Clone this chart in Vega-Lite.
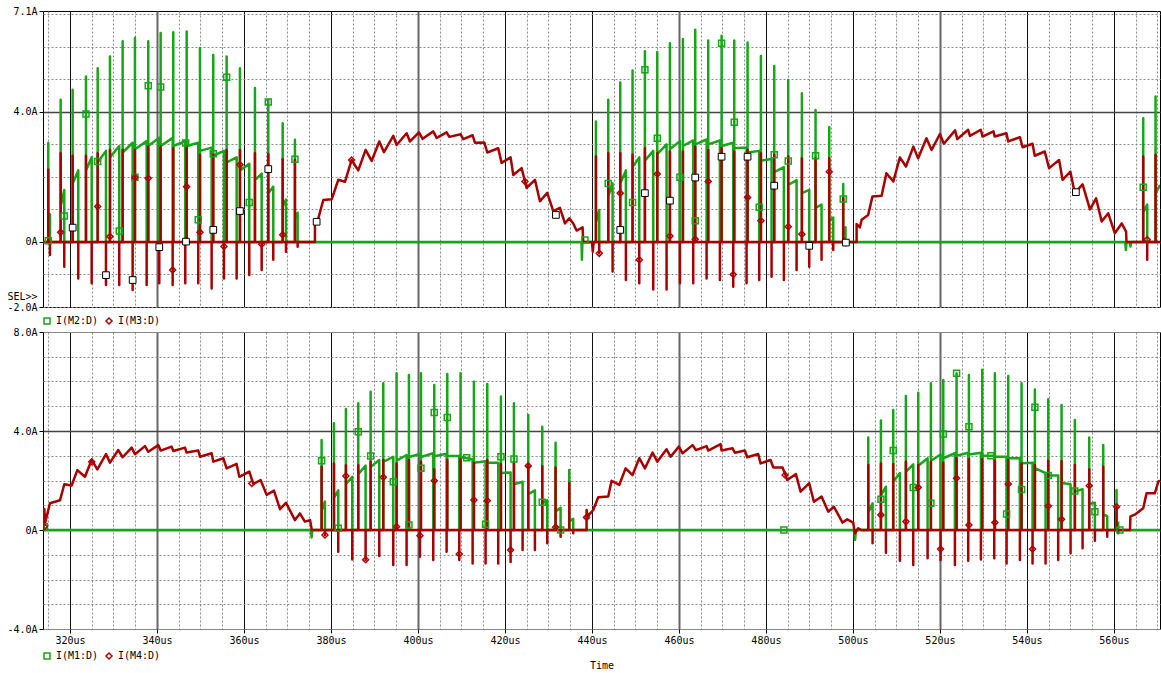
{
"$schema": "https://vega.github.io/schema/vega-lite/v6.json",
"padding": {"left": 6, "top": 5, "right": 0, "bottom": 0},
"background": "white",
"spacing": 25,
"bounds": "flush",
"config": {
 "view": {"stroke": "#000", "strokeWidth": 1},
 "font": "DejaVu Sans Mono",
 "axis": {"labelFont": "DejaVu Sans Mono", "labelFontSize": 10, "labelColor": "#000", "titleFont": "DejaVu Sans Mono", "titleFontSize": 10, "titleFontWeight": "normal", "titleColor": "#000", "tickColor": "#000", "labelOverlap": false, "labelFlush": false, "domain": false, "tickCount": 200}
},
"resolve": {"scale": {"color": "independent", "shape": "independent"}, "legend": {"color": "independent", "shape": "independent"}},
"datasets": {
"g1": [{"t":313.8,"v":0},
{"t":315.01,"v":0},{"t":315.01,"v":3.04},{"t":315.01,"v":0.55},{"t":315.4,"v":0.85},{"t":315.4,"v":0},
{"t":317.86,"v":0},{"t":317.86,"v":4.37},{"t":317.86,"v":1.1},{"t":318.69,"v":1.6},{"t":318.69,"v":0},
{"t":320.62,"v":0},{"t":320.62,"v":4.68},{"t":320.62,"v":1.8},{"t":321.91,"v":2.2},{"t":321.91,"v":0},
{"t":323.68,"v":0},{"t":323.68,"v":5.09},{"t":323.68,"v":2.2},{"t":324.99,"v":2.6},{"t":324.99,"v":0},
{"t":326.37,"v":0},{"t":326.37,"v":5.34},{"t":326.37,"v":2.45},{"t":328.28,"v":2.8},{"t":328.28,"v":0},
{"t":329.2,"v":0},{"t":329.2,"v":5.7},{"t":329.2,"v":2.6},{"t":331.33,"v":2.95},{"t":331.33,"v":0},
{"t":332.11,"v":0},{"t":332.11,"v":6.17},{"t":332.11,"v":2.75},{"t":334.41,"v":3.05},{"t":334.41,"v":0},
{"t":334.94,"v":0},{"t":334.94,"v":6.27},{"t":334.94,"v":2.85},{"t":337.63,"v":3.1},{"t":337.63,"v":0},
{"t":338.0,"v":0},{"t":338.0,"v":6.17},{"t":338.0,"v":2.95},{"t":340.53,"v":3.2},{"t":340.53,"v":0},
{"t":340.85,"v":0},{"t":340.85,"v":6.42},{"t":340.85,"v":2.95},{"t":343.61,"v":3.2},{"t":343.61,"v":0},
{"t":343.75,"v":0},{"t":343.75,"v":6.45},{"t":343.75,"v":2.95},{"t":346.51,"v":3.1},{"t":346.51,"v":0},
{"t":346.83,"v":0},{"t":346.83,"v":6.47},{"t":346.83,"v":2.95},{"t":349.49,"v":3.05},{"t":349.49,"v":0},
{"t":349.89,"v":0},{"t":349.89,"v":5.96},{"t":349.89,"v":2.8},{"t":352.57,"v":2.9},{"t":352.57,"v":0},
{"t":352.94,"v":0},{"t":352.94,"v":5.75},{"t":352.94,"v":2.65},{"t":355.4,"v":2.8},{"t":355.4,"v":0},
{"t":356.02,"v":0},{"t":356.02,"v":5.7},{"t":356.02,"v":2.45},{"t":358.32,"v":2.6},{"t":358.32,"v":0},
{"t":359.08,"v":0},{"t":359.08,"v":5.34},{"t":359.08,"v":2.2},{"t":361.22,"v":2.4},{"t":361.22,"v":0},
{"t":362.53,"v":0},{"t":362.53,"v":4.73},{"t":362.53,"v":1.9},{"t":364.07,"v":2.1},{"t":364.07,"v":0},
{"t":365.59,"v":0},{"t":365.59,"v":4.37},{"t":365.59,"v":1.5},{"t":366.74,"v":1.7},{"t":366.74,"v":0},
{"t":368.9,"v":0},{"t":368.9,"v":3.65},{"t":368.9,"v":1.1},{"t":369.66,"v":1.3},{"t":369.66,"v":0},
{"t":371.72,"v":0},{"t":371.72,"v":3.14},{"t":371.72,"v":0.7},{"t":372.34,"v":0.9},{"t":372.34,"v":0},
{"t":437.6,"v":0},{"t":437.7,"v":-0.55},{"t":437.8,"v":0},
{"t":440.92,"v":0},{"t":440.92,"v":3.7},{"t":440.92,"v":0.6},{"t":441.68,"v":0.98},{"t":441.68,"v":0},
{"t":443.75,"v":0},{"t":443.75,"v":4.37},{"t":443.75,"v":1.4},{"t":444.75,"v":1.8},{"t":444.75,"v":0},
{"t":446.51,"v":0},{"t":446.51,"v":4.9},{"t":446.51,"v":1.8},{"t":447.81,"v":2.2},{"t":447.81,"v":0},
{"t":449.34,"v":0},{"t":449.34,"v":5.27},{"t":449.34,"v":2.3},{"t":450.88,"v":2.6},{"t":450.88,"v":0},
{"t":452.18,"v":0},{"t":452.18,"v":5.86},{"t":452.18,"v":2.5},{"t":454.1,"v":2.8},{"t":454.1,"v":0},
{"t":455.02,"v":0},{"t":455.02,"v":5.84},{"t":455.02,"v":2.7},{"t":457.16,"v":3.0},{"t":457.16,"v":0},
{"t":457.93,"v":0},{"t":457.93,"v":6.11},{"t":457.93,"v":2.85},{"t":460.23,"v":3.1},{"t":460.23,"v":0},
{"t":460.92,"v":0},{"t":460.92,"v":6.24},{"t":460.92,"v":2.95},{"t":463.29,"v":3.12},{"t":463.29,"v":0},
{"t":463.75,"v":0},{"t":463.75,"v":6.52},{"t":463.75,"v":3.0},{"t":466.36,"v":3.15},{"t":466.36,"v":0},
{"t":466.74,"v":0},{"t":466.74,"v":6.19},{"t":466.74,"v":3.0},{"t":469.42,"v":3.12},{"t":469.42,"v":0},
{"t":469.81,"v":0},{"t":469.81,"v":6.34},{"t":469.81,"v":2.95},{"t":472.49,"v":3.05},{"t":472.49,"v":0},
{"t":472.72,"v":0},{"t":472.72,"v":6.19},{"t":472.72,"v":2.88},{"t":475.55,"v":2.9},{"t":475.55,"v":0},
{"t":475.78,"v":0},{"t":475.78,"v":6.13},{"t":475.78,"v":2.75},{"t":478.46,"v":2.8},{"t":478.46,"v":0},
{"t":478.85,"v":0},{"t":478.85,"v":5.72},{"t":478.85,"v":2.5},{"t":481.3,"v":2.55},{"t":481.3,"v":0},
{"t":481.91,"v":0},{"t":481.91,"v":5.41},{"t":481.91,"v":2.15},{"t":484.13,"v":2.3},{"t":484.13,"v":0},
{"t":485.13,"v":0},{"t":485.13,"v":4.98},{"t":485.13,"v":1.75},{"t":487.05,"v":1.9},{"t":487.05,"v":0},
{"t":488.27,"v":0},{"t":488.27,"v":4.57},{"t":488.27,"v":1.5},{"t":489.96,"v":1.6},{"t":489.96,"v":0},
{"t":491.41,"v":0},{"t":491.41,"v":4.06},{"t":491.41,"v":1.05},{"t":492.79,"v":1.15},{"t":492.79,"v":0},
{"t":494.56,"v":0},{"t":494.56,"v":3.53},{"t":494.56,"v":0.65},{"t":495.48,"v":0.75},{"t":495.48,"v":0},
{"t":497.77,"v":0},{"t":497.77,"v":1.78},{"t":497.77,"v":0.35},{"t":498.3,"v":0.45},{"t":498.3,"v":0},
{"t":562.6,"v":0},{"t":562.76,"v":-0.25},{"t":562.9,"v":0},{"t":563.6,"v":0},{"t":563.8,"v":-0.14},{"t":564.0,"v":0},
{"t":566.74,"v":0},{"t":566.74,"v":3.8},{"t":566.74,"v":0.9},{"t":567.66,"v":1.15},{"t":567.66,"v":0},
{"t":569.58,"v":0},{"t":569.58,"v":4.47},{"t":569.58,"v":1.5},{"t":570.6,"v":1.75}],
"r1": [{"t":313.8,"v":0},
{"t":315.01,"v":0},{"t":315.01,"v":2.22},{"t":315.01,"v":0},{"t":315.4,"v":0},{"t":315.4,"v":-0.4},{"t":315.4,"v":0},
{"t":317.86,"v":0},{"t":317.86,"v":2.73},{"t":317.86,"v":0},{"t":318.69,"v":0},{"t":318.69,"v":-0.76},{"t":318.69,"v":0},
{"t":320.62,"v":0},{"t":320.62,"v":2.65},{"t":320.62,"v":0},{"t":321.91,"v":0},{"t":321.91,"v":-1.12},{"t":321.91,"v":0},
{"t":323.68,"v":0},{"t":323.68,"v":2.65},{"t":323.68,"v":0},{"t":324.99,"v":0},{"t":324.99,"v":-1.27},{"t":324.99,"v":0},
{"t":326.37,"v":0},{"t":326.37,"v":2.73},{"t":326.37,"v":0},{"t":328.28,"v":0},{"t":328.28,"v":-1.32},{"t":328.28,"v":0},
{"t":329.2,"v":0},{"t":329.2,"v":2.83},{"t":329.2,"v":0},{"t":331.33,"v":0},{"t":331.33,"v":-1.32},{"t":331.33,"v":0},
{"t":332.11,"v":0},{"t":332.11,"v":2.83},{"t":332.11,"v":0},{"t":334.41,"v":0},{"t":334.41,"v":-1.48},{"t":334.41,"v":0},
{"t":334.94,"v":0},{"t":334.94,"v":2.83},{"t":334.94,"v":0},{"t":337.63,"v":0},{"t":337.63,"v":-1.32},{"t":337.63,"v":0},
{"t":338.0,"v":0},{"t":338.0,"v":2.93},{"t":338.0,"v":0},{"t":340.53,"v":0},{"t":340.53,"v":-1.27},{"t":340.53,"v":0},
{"t":340.85,"v":0},{"t":340.85,"v":2.93},{"t":340.85,"v":0},{"t":343.61,"v":0},{"t":343.61,"v":-1.32},{"t":343.61,"v":0},
{"t":343.75,"v":0},{"t":343.75,"v":2.88},{"t":343.75,"v":0},{"t":346.51,"v":0},{"t":346.51,"v":-1.27},{"t":346.51,"v":0},
{"t":346.83,"v":0},{"t":346.83,"v":2.93},{"t":346.83,"v":0},{"t":349.49,"v":0},{"t":349.49,"v":-1.27},{"t":349.49,"v":0},
{"t":349.89,"v":0},{"t":349.89,"v":2.68},{"t":349.89,"v":0},{"t":352.57,"v":0},{"t":352.57,"v":-1.43},{"t":352.57,"v":0},
{"t":352.94,"v":0},{"t":352.94,"v":2.68},{"t":352.94,"v":0},{"t":355.4,"v":0},{"t":355.4,"v":-1.12},{"t":355.4,"v":0},
{"t":356.02,"v":0},{"t":356.02,"v":2.83},{"t":356.02,"v":0},{"t":358.32,"v":0},{"t":358.32,"v":-1.12},{"t":358.32,"v":0},
{"t":359.08,"v":0},{"t":359.08,"v":2.83},{"t":359.08,"v":0},{"t":361.22,"v":0},{"t":361.22,"v":-1.02},{"t":361.22,"v":0},
{"t":362.53,"v":0},{"t":362.53,"v":2.73},{"t":362.53,"v":0},{"t":364.07,"v":0},{"t":364.07,"v":-0.86},{"t":364.07,"v":0},
{"t":365.59,"v":0},{"t":365.59,"v":2.7},{"t":365.59,"v":0},{"t":366.74,"v":0},{"t":366.74,"v":-0.55},{"t":366.74,"v":0},
{"t":368.9,"v":0},{"t":368.9,"v":2.54},{"t":368.9,"v":0},{"t":369.66,"v":0},{"t":369.66,"v":-0.3},{"t":369.66,"v":0},
{"t":371.72,"v":0},{"t":371.72,"v":2.52},{"t":371.72,"v":0},{"t":372.34,"v":0},{"t":372.34,"v":-0.15},{"t":372.34,"v":0},
{"t":376.32,"v":0},{"t":376.32,"v":0.68},{"t":377.09,"v":0.72},{"t":378.24,"v":1.29},{"t":380.16,"v":1.31},{"t":381.69,"v":1.91},{"t":383.22,"v":1.85},{"t":384.75,"v":2.52},{"t":386.28,"v":2.2},{"t":387.97,"v":2.83},{"t":389.35,"v":2.49},{"t":391.11,"v":3.09},{"t":392.18,"v":2.76},{"t":394.33,"v":3.26},{"t":395.1,"v":2.98},{"t":397.4,"v":3.34},{"t":398.16,"v":3.09},{"t":400.23,"v":3.37},{"t":401.07,"v":3.17},{"t":403.52,"v":3.4},{"t":404.29,"v":3.2},{"t":406.59,"v":3.37},{"t":407.2,"v":3.23},{"t":409.81,"v":3.31},{"t":410.42,"v":3.16},{"t":412.57,"v":3.28},{"t":413.1,"v":3.05},{"t":415.25,"v":3.06},{"t":415.94,"v":2.75},{"t":418.46,"v":2.88},{"t":419.23,"v":2.43},{"t":421.3,"v":2.6},{"t":421.92,"v":2.06},{"t":423.83,"v":2.27},{"t":424.98,"v":1.66},{"t":426.9,"v":1.91},{"t":428.05,"v":1.25},{"t":429.72,"v":1.51},{"t":431.11,"v":0.95},{"t":432.64,"v":1.05},{"t":433.8,"v":0.57},{"t":434.8,"v":0.73},{"t":435.71,"v":0.57},{"t":436.47,"v":0.35},{"t":437.85,"v":0.45},{"t":438.0,"v":0},
{"t":440.0,"v":0},{"t":440.2,"v":-0.3},{"t":440.4,"v":0},
{"t":440.92,"v":0},{"t":440.92,"v":2.63},{"t":440.92,"v":0},{"t":441.68,"v":0},{"t":441.68,"v":-0.35},{"t":441.68,"v":0},
{"t":443.75,"v":0},{"t":443.75,"v":2.73},{"t":443.75,"v":0},{"t":444.75,"v":0},{"t":444.75,"v":-0.91},{"t":444.75,"v":0},
{"t":446.51,"v":0},{"t":446.51,"v":2.73},{"t":446.51,"v":0},{"t":447.81,"v":0},{"t":447.81,"v":-1.17},{"t":447.81,"v":0},
{"t":449.34,"v":0},{"t":449.34,"v":2.68},{"t":449.34,"v":0},{"t":450.88,"v":0},{"t":450.88,"v":-1.27},{"t":450.88,"v":0},
{"t":452.18,"v":0},{"t":452.18,"v":2.88},{"t":452.18,"v":0},{"t":454.1,"v":0},{"t":454.1,"v":-1.46},{"t":454.1,"v":0},
{"t":455.02,"v":0},{"t":455.02,"v":2.73},{"t":455.02,"v":0},{"t":457.16,"v":0},{"t":457.16,"v":-1.46},{"t":457.16,"v":0},
{"t":457.93,"v":0},{"t":457.93,"v":2.78},{"t":457.93,"v":0},{"t":460.23,"v":0},{"t":460.23,"v":-1.27},{"t":460.23,"v":0},
{"t":460.92,"v":0},{"t":460.92,"v":2.78},{"t":460.92,"v":0},{"t":463.29,"v":0},{"t":463.29,"v":-1.27},{"t":463.29,"v":0},
{"t":463.75,"v":0},{"t":463.75,"v":2.93},{"t":463.75,"v":0},{"t":466.36,"v":0},{"t":466.36,"v":-1.12},{"t":466.36,"v":0},
{"t":466.74,"v":0},{"t":466.74,"v":2.83},{"t":466.74,"v":0},{"t":469.42,"v":0},{"t":469.42,"v":-1.17},{"t":469.42,"v":0},
{"t":469.81,"v":0},{"t":469.81,"v":2.88},{"t":469.81,"v":0},{"t":472.49,"v":0},{"t":472.49,"v":-1.38},{"t":472.49,"v":0},
{"t":472.72,"v":0},{"t":472.72,"v":2.78},{"t":472.72,"v":0},{"t":475.55,"v":0},{"t":475.55,"v":-1.27},{"t":475.55,"v":0},
{"t":475.78,"v":0},{"t":475.78,"v":2.83},{"t":475.78,"v":0},{"t":478.46,"v":0},{"t":478.46,"v":-1.17},{"t":478.46,"v":0},
{"t":478.85,"v":0},{"t":478.85,"v":2.73},{"t":478.85,"v":0},{"t":481.3,"v":0},{"t":481.3,"v":-1.07},{"t":481.3,"v":0},
{"t":481.91,"v":0},{"t":481.91,"v":2.68},{"t":481.91,"v":0},{"t":484.13,"v":0},{"t":484.13,"v":-1.17},{"t":484.13,"v":0},
{"t":485.13,"v":0},{"t":485.13,"v":2.63},{"t":485.13,"v":0},{"t":487.05,"v":0},{"t":487.05,"v":-0.86},{"t":487.05,"v":0},
{"t":488.27,"v":0},{"t":488.27,"v":2.57},{"t":488.27,"v":0},{"t":489.96,"v":0},{"t":489.96,"v":-0.76},{"t":489.96,"v":0},
{"t":491.41,"v":0},{"t":491.41,"v":2.57},{"t":491.41,"v":0},{"t":492.79,"v":0},{"t":492.79,"v":-0.55},{"t":492.79,"v":0},
{"t":494.56,"v":0},{"t":494.56,"v":2.57},{"t":494.56,"v":0},{"t":495.48,"v":0},{"t":495.48,"v":-0.25},{"t":495.48,"v":0},
{"t":497.77,"v":0},{"t":497.77,"v":1.34},{"t":497.77,"v":0},{"t":498.3,"v":0},{"t":498.3,"v":-0.1},{"t":498.3,"v":0},
{"t":500.85,"v":0},{"t":500.85,"v":0.55},{"t":501.61,"v":0.45},{"t":502.0,"v":0.68},{"t":503.5,"v":0.83},{"t":504.5,"v":1.4},{"t":506.6,"v":1.42},{"t":507.7,"v":2.11},{"t":509.3,"v":1.86},{"t":510.8,"v":2.6},{"t":512.2,"v":2.32},{"t":513.9,"v":2.93},{"t":515.0,"v":2.57},{"t":516.9,"v":3.19},{"t":518.1,"v":2.83},{"t":520.0,"v":3.32},{"t":520.9,"v":3.02},{"t":523.5,"v":3.43},{"t":524.0,"v":3.16},{"t":526.5,"v":3.45},{"t":526.9,"v":3.26},{"t":529.4,"v":3.45},{"t":529.8,"v":3.24},{"t":532.3,"v":3.4},{"t":532.6,"v":3.24},{"t":535.3,"v":3.34},{"t":535.7,"v":3.09},{"t":538.4,"v":3.22},{"t":539.0,"v":2.91},{"t":541.3,"v":3.02},{"t":541.8,"v":2.65},{"t":544.1,"v":2.78},{"t":545.1,"v":2.27},{"t":547.4,"v":2.52},{"t":548.2,"v":1.91},{"t":550.0,"v":2.16},{"t":551.0,"v":1.5},{"t":552.8,"v":1.77},{"t":554.5,"v":1.0},{"t":555.9,"v":1.34},{"t":557.2,"v":0.63},{"t":558.7,"v":0.88},{"t":560.2,"v":0.27},{"t":561.8,"v":0.57},{"t":562.8,"v":0.32},{"t":562.9,"v":0},
{"t":566.74,"v":0},{"t":566.74,"v":2.63},{"t":566.74,"v":0},{"t":567.66,"v":0},{"t":567.66,"v":-0.55},{"t":567.66,"v":0},{"t":569.58,"v":0},{"t":569.58,"v":2.68},{"t":569.58,"v":0},{"t":570.6,"v":0}],
"m1": [{"s":"I(M2:D)","t":315.01,"v":0.04},{"s":"I(M2:D)","t":318.69,"v":0.8},{"s":"I(M2:D)","t":323.68,"v":3.93},{"s":"I(M2:D)","t":326.37,"v":2.47},{"s":"I(M2:D)","t":331.33,"v":0.34},{"s":"I(M2:D)","t":334.94,"v":1.99},{"s":"I(M2:D)","t":338.0,"v":4.8},{"s":"I(M2:D)","t":340.85,"v":4.76},{"s":"I(M2:D)","t":346.6,"v":3.04},{"s":"I(M2:D)","t":349.49,"v":0.68},{"s":"I(M2:D)","t":352.94,"v":2.71},{"s":"I(M2:D)","t":356.02,"v":5.06},{"s":"I(M2:D)","t":361.22,"v":1.21},{"s":"I(M2:D)","t":365.59,"v":4.3},{"s":"I(M2:D)","t":371.72,"v":2.54},{"s":"I(M2:D)","t":438.39,"v":0.06},{"s":"I(M2:D)","t":443.75,"v":1.8},{"s":"I(M2:D)","t":449.34,"v":1.21},{"s":"I(M2:D)","t":452.18,"v":5.29},{"s":"I(M2:D)","t":455.02,"v":3.19},{"s":"I(M2:D)","t":460.23,"v":1.99},{"s":"I(M2:D)","t":463.75,"v":0.65},{"s":"I(M2:D)","t":469.81,"v":6.11},{"s":"I(M2:D)","t":472.72,"v":3.68},{"s":"I(M2:D)","t":478.46,"v":1.07},{"s":"I(M2:D)","t":481.91,"v":2.68},{"s":"I(M2:D)","t":485.13,"v":2.49},{"s":"I(M2:D)","t":491.41,"v":2.65},{"s":"I(M2:D)","t":497.77,"v":1.32},{"s":"I(M2:D)","t":566.74,"v":1.68},
{"s":"I(M3:D)","t":317.86,"v":0.3},{"s":"I(M3:D)","t":326.37,"v":1.09},{"s":"I(M3:D)","t":329.2,"v":0.17},{"s":"I(M3:D)","t":334.94,"v":1.98},{"s":"I(M3:D)","t":338.0,"v":1.96},{"s":"I(M3:D)","t":343.61,"v":-0.86},{"s":"I(M3:D)","t":346.83,"v":1.7},{"s":"I(M3:D)","t":349.89,"v":0.3},{"s":"I(M3:D)","t":355.4,"v":-0.14},{"s":"I(M3:D)","t":359.08,"v":2.37},{"s":"I(M3:D)","t":364.07,"v":-0.07},{"s":"I(M3:D)","t":368.9,"v":0.22},{"s":"I(M3:D)","t":384.75,"v":2.52},{"s":"I(M3:D)","t":424.6,"v":1.86},{"s":"I(M3:D)","t":441.68,"v":-0.35},{"s":"I(M3:D)","t":446.51,"v":1.5},{"s":"I(M3:D)","t":450.88,"v":-0.55},{"s":"I(M3:D)","t":455.02,"v":2.09},{"s":"I(M3:D)","t":457.93,"v":0.18},{"s":"I(M3:D)","t":463.75,"v":0.08},{"s":"I(M3:D)","t":466.74,"v":1.86},{"s":"I(M3:D)","t":472.49,"v":-1.0},{"s":"I(M3:D)","t":475.78,"v":1.37},{"s":"I(M3:D)","t":478.85,"v":0.65},{"s":"I(M3:D)","t":485.13,"v":0.47},{"s":"I(M3:D)","t":488.27,"v":0.24},{"s":"I(M3:D)","t":494.56,"v":2.16},{"s":"I(M3:D)","t":567.66,"v":0.07}],
"w1": [{"t":320.62,"v":0.44},{"t":328.28,"v":-1.02},{"t":334.41,"v":-1.17},{"t":340.53,"v":-0.16},{"t":346.67,"v":0.01},{"t":352.94,"v":0.37},{"t":359.08,"v":0.95},{"t":365.59,"v":2.24},{"t":376.71,"v":0.62},{"t":431.72,"v":0.83},{"t":446.51,"v":0.37},{"t":452.18,"v":1.5},{"t":457.93,"v":1.27},{"t":463.75,"v":1.98},{"t":469.81,"v":2.62},{"t":475.78,"v":2.62},{"t":481.91,"v":1.73},{"t":489.96,"v":-0.12},{"t":498.39,"v":-0.02},{"t":551.26,"v":1.53}],
"g2": [{"t":313.8,"v":0},{"t":314.0,"v":0.15},{"t":314.2,"v":0},{"t":375.4,"v":0},{"t":375.55,"v":-0.3},{"t":375.7,"v":0},
{"t":377.85,"v":0},{"t":377.85,"v":3.64},{"t":377.85,"v":0.8},{"t":378.62,"v":1.15},{"t":378.62,"v":0},
{"t":380.69,"v":0},{"t":380.69,"v":4.31},{"t":380.69,"v":1.3},{"t":381.68,"v":1.6},{"t":381.68,"v":0},
{"t":383.44,"v":0},{"t":383.44,"v":4.89},{"t":383.44,"v":1.85},{"t":384.9,"v":2.15},{"t":384.9,"v":0},
{"t":386.28,"v":0},{"t":386.28,"v":5.12},{"t":386.28,"v":2.25},{"t":387.97,"v":2.6},{"t":387.97,"v":0},
{"t":389.12,"v":0},{"t":389.12,"v":5.59},{"t":389.12,"v":2.55},{"t":391.11,"v":2.83},{"t":391.11,"v":0},
{"t":392.03,"v":0},{"t":392.03,"v":5.93},{"t":392.03,"v":2.75},{"t":394.33,"v":2.96},{"t":394.33,"v":0},
{"t":395.09,"v":0},{"t":395.09,"v":6.33},{"t":395.09,"v":2.8},{"t":397.39,"v":3.03},{"t":397.39,"v":0},
{"t":397.93,"v":0},{"t":397.93,"v":6.26},{"t":397.93,"v":2.95},{"t":400.46,"v":3.07},{"t":400.46,"v":0},
{"t":400.69,"v":0},{"t":400.69,"v":6.33},{"t":400.69,"v":2.95},{"t":403.52,"v":3.1},{"t":403.52,"v":0},
{"t":403.75,"v":0},{"t":403.75,"v":5.86},{"t":403.75,"v":2.98},{"t":406.59,"v":3.08},{"t":406.59,"v":0},
{"t":406.74,"v":0},{"t":406.74,"v":6.3},{"t":406.74,"v":2.99},{"t":409.5,"v":2.99},{"t":409.5,"v":0},
{"t":409.8,"v":0},{"t":409.8,"v":6.33},{"t":409.8,"v":2.96},{"t":412.57,"v":2.85},{"t":412.57,"v":0},
{"t":412.87,"v":0},{"t":412.87,"v":5.99},{"t":412.87,"v":2.72},{"t":415.55,"v":2.78},{"t":415.55,"v":0},
{"t":415.94,"v":0},{"t":415.94,"v":5.9},{"t":415.94,"v":2.72},{"t":418.46,"v":2.72},{"t":418.46,"v":0},
{"t":419.08,"v":0},{"t":419.08,"v":5.39},{"t":419.08,"v":2.3},{"t":421.3,"v":2.32},{"t":421.3,"v":0},
{"t":422.07,"v":0},{"t":422.07,"v":5.12},{"t":422.07,"v":1.85},{"t":424.06,"v":1.95},{"t":424.06,"v":0},
{"t":425.36,"v":0},{"t":425.36,"v":4.65},{"t":425.36,"v":1.45},{"t":426.89,"v":1.6},{"t":426.89,"v":0},
{"t":428.58,"v":0},{"t":428.58,"v":4.17},{"t":428.58,"v":1.1},{"t":429.73,"v":1.2},{"t":429.73,"v":0},
{"t":431.64,"v":0},{"t":431.64,"v":3.53},{"t":431.64,"v":0.75},{"t":432.8,"v":0.9},{"t":432.8,"v":0},
{"t":434.79,"v":0},{"t":434.79,"v":2.42},{"t":434.79,"v":0.35},{"t":435.7,"v":0.45},{"t":435.7,"v":0},
{"t":500.3,"v":0},{"t":500.5,"v":-0.4},{"t":500.7,"v":0},
{"t":503.53,"v":0},{"t":503.53,"v":3.74},{"t":503.53,"v":0.7},{"t":504.52,"v":1.08},{"t":504.52,"v":0},
{"t":506.44,"v":0},{"t":506.44,"v":4.42},{"t":506.44,"v":1.4},{"t":507.59,"v":1.75},{"t":507.59,"v":0},
{"t":509.27,"v":0},{"t":509.27,"v":4.85},{"t":509.27,"v":1.95},{"t":510.8,"v":2.3},{"t":510.8,"v":0},
{"t":512.18,"v":0},{"t":512.18,"v":5.41},{"t":512.18,"v":2.35},{"t":513.87,"v":2.65},{"t":513.87,"v":0},
{"t":515.02,"v":0},{"t":515.02,"v":5.55},{"t":515.02,"v":2.6},{"t":517.17,"v":2.9},{"t":517.17,"v":0},
{"t":517.93,"v":0},{"t":517.93,"v":5.93},{"t":517.93,"v":2.8},{"t":520.15,"v":3.05},{"t":520.15,"v":0},
{"t":520.77,"v":0},{"t":520.77,"v":6.06},{"t":520.77,"v":2.9},{"t":523.45,"v":3.1},{"t":523.45,"v":0},
{"t":523.83,"v":0},{"t":523.83,"v":6.33},{"t":523.83,"v":3.0},{"t":526.51,"v":3.12},{"t":526.51,"v":0},
{"t":526.67,"v":0},{"t":526.67,"v":6.26},{"t":526.67,"v":3.05},{"t":529.43,"v":3.12},{"t":529.43,"v":0},
{"t":529.73,"v":0},{"t":529.73,"v":6.47},{"t":529.73,"v":3.0},{"t":532.49,"v":3.0},{"t":532.49,"v":0},
{"t":532.64,"v":0},{"t":532.64,"v":6.33},{"t":532.64,"v":2.96},{"t":535.33,"v":2.96},{"t":535.33,"v":0},
{"t":535.71,"v":0},{"t":535.71,"v":6.22},{"t":535.71,"v":2.9},{"t":538.39,"v":2.9},{"t":538.39,"v":0},
{"t":538.77,"v":0},{"t":538.77,"v":5.93},{"t":538.77,"v":2.7},{"t":541.3,"v":2.72},{"t":541.3,"v":0},
{"t":541.84,"v":0},{"t":541.84,"v":5.68},{"t":541.84,"v":2.5},{"t":544.29,"v":2.3},{"t":544.29,"v":0},
{"t":544.9,"v":0},{"t":544.9,"v":5.28},{"t":544.9,"v":2.2},{"t":547.2,"v":2.2},{"t":547.2,"v":0},
{"t":547.97,"v":0},{"t":547.97,"v":5.05},{"t":547.97,"v":1.9},{"t":550.04,"v":1.85},{"t":550.04,"v":0},
{"t":551.03,"v":0},{"t":551.03,"v":4.44},{"t":551.03,"v":1.55},{"t":552.8,"v":1.65},{"t":552.8,"v":0},
{"t":554.33,"v":0},{"t":554.33,"v":3.74},{"t":554.33,"v":1.05},{"t":555.63,"v":1.1},{"t":555.63,"v":0},
{"t":557.55,"v":0},{"t":557.55,"v":3.43},{"t":557.55,"v":0.65},{"t":558.47,"v":0.55},{"t":558.47,"v":0},
{"t":560.61,"v":0},{"t":560.61,"v":1.62},{"t":560.61,"v":0.3},{"t":560.99,"v":0.3},{"t":560.99,"v":0},
{"t":570.6,"v":0}],
"r2": [{"t":313.8,"v":0.05},{"t":314.1,"v":0.85},{"t":314.3,"v":0.3},{"t":315.4,"v":1.08},{"t":317.7,"v":1.2},{"t":318.7,"v":1.85},{"t":320.39,"v":1.8},{"t":321.69,"v":2.42},{"t":323.45,"v":2.15},{"t":324.98,"v":2.83},{"t":326.29,"v":2.45},{"t":328.28,"v":3.07},{"t":329.2,"v":2.72},{"t":331.11,"v":3.23},{"t":332.11,"v":2.94},{"t":334.18,"v":3.33},{"t":334.94,"v":3.06},{"t":337.24,"v":3.39},{"t":338.01,"v":3.16},{"t":340.31,"v":3.43},{"t":340.84,"v":3.21},{"t":343.37,"v":3.37},{"t":343.76,"v":3.19},{"t":346.44,"v":3.33},{"t":346.82,"v":3.13},{"t":349.5,"v":3.21},{"t":349.89,"v":2.96},{"t":352.57,"v":3.1},{"t":352.95,"v":2.76},{"t":355.25,"v":2.9},{"t":356.02,"v":2.49},{"t":358.31,"v":2.67},{"t":358.93,"v":2.15},{"t":361.23,"v":2.36},{"t":362.15,"v":1.86},{"t":363.83,"v":2.02},{"t":365.21,"v":1.42},{"t":366.9,"v":1.59},{"t":368.28,"v":0.84},{"t":369.66,"v":1.1},{"t":371.73,"v":0.4},{"t":372.87,"v":0.67},{"t":374.0,"v":0.34},{"t":375.2,"v":0.4},{"t":375.6,"v":0},
{"t":377.85,"v":0},{"t":377.85,"v":2.56},{"t":377.85,"v":0},{"t":378.62,"v":0},{"t":378.62,"v":-0.2},{"t":378.62,"v":0},
{"t":380.69,"v":0},{"t":380.69,"v":2.69},{"t":380.69,"v":0},{"t":381.68,"v":0},{"t":381.68,"v":-0.88},{"t":381.68,"v":0},
{"t":383.44,"v":0},{"t":383.44,"v":2.62},{"t":383.44,"v":0},{"t":384.9,"v":0},{"t":384.9,"v":-1.19},{"t":384.9,"v":0},
{"t":386.28,"v":0},{"t":386.28,"v":2.62},{"t":386.28,"v":0},{"t":387.97,"v":0},{"t":387.97,"v":-1.21},{"t":387.97,"v":0},
{"t":389.12,"v":0},{"t":389.12,"v":2.76},{"t":389.12,"v":0},{"t":391.11,"v":0},{"t":391.11,"v":-1.05},{"t":391.11,"v":0},
{"t":392.03,"v":0},{"t":392.03,"v":2.83},{"t":392.03,"v":0},{"t":394.33,"v":0},{"t":394.33,"v":-1.41},{"t":394.33,"v":0},
{"t":395.09,"v":0},{"t":395.09,"v":2.69},{"t":395.09,"v":0},{"t":397.39,"v":0},{"t":397.39,"v":-1.41},{"t":397.39,"v":0},
{"t":397.93,"v":0},{"t":397.93,"v":2.83},{"t":397.93,"v":0},{"t":400.46,"v":0},{"t":400.46,"v":-1.08},{"t":400.46,"v":0},
{"t":400.69,"v":0},{"t":400.69,"v":2.76},{"t":400.69,"v":0},{"t":403.52,"v":0},{"t":403.52,"v":-1.21},{"t":403.52,"v":0},
{"t":403.75,"v":0},{"t":403.75,"v":2.45},{"t":403.75,"v":0},{"t":406.59,"v":0},{"t":406.59,"v":-0.88},{"t":406.59,"v":0},
{"t":406.74,"v":0},{"t":406.74,"v":2.83},{"t":406.74,"v":0},{"t":409.5,"v":0},{"t":409.5,"v":-1.21},{"t":409.5,"v":0},
{"t":409.8,"v":0},{"t":409.8,"v":2.86},{"t":409.8,"v":0},{"t":412.57,"v":0},{"t":412.57,"v":-1.35},{"t":412.57,"v":0},
{"t":412.87,"v":0},{"t":412.87,"v":2.72},{"t":412.87,"v":0},{"t":415.55,"v":0},{"t":415.55,"v":-1.35},{"t":415.55,"v":0},
{"t":415.94,"v":0},{"t":415.94,"v":2.83},{"t":415.94,"v":0},{"t":418.46,"v":0},{"t":418.46,"v":-1.35},{"t":418.46,"v":0},
{"t":419.08,"v":0},{"t":419.08,"v":2.67},{"t":419.08,"v":0},{"t":421.3,"v":0},{"t":421.3,"v":-1.29},{"t":421.3,"v":0},
{"t":422.07,"v":0},{"t":422.07,"v":2.72},{"t":422.07,"v":0},{"t":424.06,"v":0},{"t":424.06,"v":-0.81},{"t":424.06,"v":0},
{"t":425.36,"v":0},{"t":425.36,"v":2.62},{"t":425.36,"v":0},{"t":426.89,"v":0},{"t":426.89,"v":-0.81},{"t":426.89,"v":0},
{"t":428.58,"v":0},{"t":428.58,"v":2.58},{"t":428.58,"v":0},{"t":429.73,"v":0},{"t":429.73,"v":-0.54},{"t":429.73,"v":0},
{"t":431.64,"v":0},{"t":431.64,"v":2.53},{"t":431.64,"v":0},{"t":432.8,"v":0},{"t":432.8,"v":-0.27},{"t":432.8,"v":0},
{"t":434.79,"v":0},{"t":434.79,"v":1.9},{"t":434.79,"v":0},{"t":435.7,"v":0},{"t":435.7,"v":-0.13},{"t":435.7,"v":0},
{"t":438.77,"v":0},{"t":438.77,"v":0.81},{"t":439.0,"v":0.55},{"t":440.3,"v":0.81},{"t":441.45,"v":1.32},{"t":443.75,"v":1.35},{"t":444.52,"v":1.99},{"t":446.28,"v":1.82},{"t":447.74,"v":2.49},{"t":449.34,"v":2.22},{"t":450.88,"v":2.9},{"t":452.18,"v":2.49},{"t":453.94,"v":3.13},{"t":455.02,"v":2.76},{"t":457.16,"v":3.26},{"t":458.08,"v":2.96},{"t":459.99,"v":3.37},{"t":460.84,"v":3.1},{"t":463.14,"v":3.43},{"t":463.9,"v":3.23},{"t":466.36,"v":3.39},{"t":466.74,"v":3.21},{"t":469.57,"v":3.47},{"t":469.81,"v":3.21},{"t":472.33,"v":3.3},{"t":472.87,"v":3.12},{"t":475.17,"v":3.21},{"t":475.71,"v":2.94},{"t":478.23,"v":3.07},{"t":478.77,"v":2.69},{"t":481.07,"v":2.83},{"t":481.68,"v":2.53},{"t":483.83,"v":2.53},{"t":484.9,"v":2.02},{"t":486.9,"v":2.26},{"t":487.97,"v":1.55},{"t":489.96,"v":1.89},{"t":491.03,"v":1.14},{"t":492.79,"v":1.35},{"t":494.33,"v":0.74},{"t":495.63,"v":0.94},{"t":497.62,"v":0.3},{"t":498.69,"v":0.43},{"t":500.07,"v":0.3},{"t":500.45,"v":-0.13},{"t":501.2,"v":0.07},{"t":502.0,"v":0},
{"t":503.53,"v":0},{"t":503.53,"v":2.63},{"t":503.53,"v":0},{"t":504.52,"v":0},{"t":504.52,"v":-0.54},{"t":504.52,"v":0},
{"t":506.44,"v":0},{"t":506.44,"v":2.69},{"t":506.44,"v":0},{"t":507.59,"v":0},{"t":507.59,"v":-0.92},{"t":507.59,"v":0},
{"t":509.27,"v":0},{"t":509.27,"v":2.67},{"t":509.27,"v":0},{"t":510.8,"v":0},{"t":510.8,"v":-1.24},{"t":510.8,"v":0},
{"t":512.18,"v":0},{"t":512.18,"v":2.76},{"t":512.18,"v":0},{"t":513.87,"v":0},{"t":513.87,"v":-1.41},{"t":513.87,"v":0},
{"t":515.02,"v":0},{"t":515.02,"v":2.63},{"t":515.02,"v":0},{"t":517.17,"v":0},{"t":517.17,"v":-1.14},{"t":517.17,"v":0},
{"t":517.93,"v":0},{"t":517.93,"v":2.76},{"t":517.93,"v":0},{"t":520.15,"v":0},{"t":520.15,"v":-1.21},{"t":520.15,"v":0},
{"t":520.77,"v":0},{"t":520.77,"v":2.72},{"t":520.77,"v":0},{"t":523.45,"v":0},{"t":523.45,"v":-1.41},{"t":523.45,"v":0},
{"t":523.83,"v":0},{"t":523.83,"v":2.9},{"t":523.83,"v":0},{"t":526.51,"v":0},{"t":526.51,"v":-1.24},{"t":526.51,"v":0},
{"t":526.67,"v":0},{"t":526.67,"v":2.86},{"t":526.67,"v":0},{"t":529.43,"v":0},{"t":529.43,"v":-1.19},{"t":529.43,"v":0},
{"t":529.73,"v":0},{"t":529.73,"v":2.86},{"t":529.73,"v":0},{"t":532.49,"v":0},{"t":532.49,"v":-1.14},{"t":532.49,"v":0},
{"t":532.64,"v":0},{"t":532.64,"v":2.8},{"t":532.64,"v":0},{"t":535.33,"v":0},{"t":535.33,"v":-1.35},{"t":535.33,"v":0},
{"t":535.71,"v":0},{"t":535.71,"v":2.83},{"t":535.71,"v":0},{"t":538.39,"v":0},{"t":538.39,"v":-1.21},{"t":538.39,"v":0},
{"t":538.77,"v":0},{"t":538.77,"v":2.69},{"t":538.77,"v":0},{"t":541.3,"v":0},{"t":541.3,"v":-1.35},{"t":541.3,"v":0},
{"t":541.84,"v":0},{"t":541.84,"v":2.63},{"t":541.84,"v":0},{"t":544.29,"v":0},{"t":544.29,"v":-1.35},{"t":544.29,"v":0},
{"t":544.9,"v":0},{"t":544.9,"v":2.8},{"t":544.9,"v":0},{"t":547.2,"v":0},{"t":547.2,"v":-1.21},{"t":547.2,"v":0},
{"t":547.97,"v":0},{"t":547.97,"v":2.79},{"t":547.97,"v":0},{"t":550.04,"v":0},{"t":550.04,"v":-0.94},{"t":550.04,"v":0},
{"t":551.03,"v":0},{"t":551.03,"v":2.63},{"t":551.03,"v":0},{"t":552.8,"v":0},{"t":552.8,"v":-0.74},{"t":552.8,"v":0},
{"t":554.33,"v":0},{"t":554.33,"v":2.45},{"t":554.33,"v":0},{"t":555.63,"v":0},{"t":555.63,"v":-0.43},{"t":555.63,"v":0},
{"t":557.55,"v":0},{"t":557.55,"v":2.56},{"t":557.55,"v":0},{"t":558.47,"v":0},{"t":558.47,"v":-0.27},{"t":558.47,"v":0},
{"t":560.61,"v":0},{"t":560.61,"v":0.94},{"t":560.61,"v":0},{"t":560.99,"v":0},{"t":560.99,"v":-0.13},{"t":560.99,"v":0},
{"t":563.7,"v":0},{"t":563.8,"v":0.55},{"t":564.8,"v":0.62},{"t":566.74,"v":0.88},{"t":567.5,"v":1.48},{"t":569.4,"v":1.48},{"t":570.2,"v":1.95},{"t":570.6,"v":2.0}],
"m2": [{"s":"I(M1:D)","t":314.1,"v":0.13},{"s":"I(M1:D)","t":377.85,"v":2.8},{"s":"I(M1:D)","t":381.68,"v":0.07},{"s":"I(M1:D)","t":386.28,"v":3.97},{"s":"I(M1:D)","t":389.12,"v":2.99},{"s":"I(M1:D)","t":394.33,"v":1.95},{"s":"I(M1:D)","t":397.93,"v":0.2},{"s":"I(M1:D)","t":400.69,"v":2.49},{"s":"I(M1:D)","t":403.75,"v":4.75},{"s":"I(M1:D)","t":406.74,"v":4.55},{"s":"I(M1:D)","t":411.2,"v":2.92},{"s":"I(M1:D)","t":415.55,"v":0.23},{"s":"I(M1:D)","t":419.08,"v":2.96},{"s":"I(M1:D)","t":422.07,"v":2.87},{"s":"I(M1:D)","t":428.58,"v":1.12},{"s":"I(M1:D)","t":432.8,"v":0.0},{"s":"I(M1:D)","t":484.13,"v":0},{"s":"I(M1:D)","t":506.44,"v":1.24},{"s":"I(M1:D)","t":509.27,"v":3.21},{"s":"I(M1:D)","t":513.87,"v":1.72},{"s":"I(M1:D)","t":517.93,"v":1.08},{"s":"I(M1:D)","t":520.77,"v":3.88},{"s":"I(M1:D)","t":523.83,"v":6.33},{"s":"I(M1:D)","t":526.67,"v":4.17},{"s":"I(M1:D)","t":531.72,"v":3.0},{"s":"I(M1:D)","t":535.33,"v":0.65},{"s":"I(M1:D)","t":538.77,"v":1.64},{"s":"I(M1:D)","t":541.84,"v":4.96},{"s":"I(M1:D)","t":544.9,"v":2.2},{"s":"I(M1:D)","t":551.03,"v":1.58},{"s":"I(M1:D)","t":555.63,"v":0.74},{"s":"I(M1:D)","t":561.38,"v":0},
{"s":"I(M4:D)","t":314.1,"v":0.13},{"s":"I(M4:D)","t":325.0,"v":2.76},{"s":"I(M4:D)","t":361.8,"v":1.88},{"s":"I(M4:D)","t":378.62,"v":-0.2},{"s":"I(M4:D)","t":383.44,"v":2.18},{"s":"I(M4:D)","t":387.97,"v":-1.2},{"s":"I(M4:D)","t":392.03,"v":2.13},{"s":"I(M4:D)","t":395.09,"v":0.13},{"s":"I(M4:D)","t":400.46,"v":-0.23},{"s":"I(M4:D)","t":403.75,"v":1.99},{"s":"I(M4:D)","t":409.5,"v":-0.97},{"s":"I(M4:D)","t":412.87,"v":1.21},{"s":"I(M4:D)","t":415.94,"v":1.18},{"s":"I(M4:D)","t":421.3,"v":-0.81},{"s":"I(M4:D)","t":425.36,"v":2.59},{"s":"I(M4:D)","t":431.64,"v":0.11},{"s":"I(M4:D)","t":438.77,"v":0.51},{"s":"I(M4:D)","t":484.4,"v":2.22},{"s":"I(M4:D)","t":506.44,"v":0.61},{"s":"I(M4:D)","t":512.18,"v":0.34},{"s":"I(M4:D)","t":515.02,"v":1.72},{"s":"I(M4:D)","t":520.15,"v":-0.77},{"s":"I(M4:D)","t":523.83,"v":2.09},{"s":"I(M4:D)","t":526.67,"v":0.2},{"s":"I(M4:D)","t":532.64,"v":0.3},{"s":"I(M4:D)","t":535.71,"v":1.86},{"s":"I(M4:D)","t":541.3,"v":-0.77},{"s":"I(M4:D)","t":544.9,"v":0.97},{"s":"I(M4:D)","t":547.97,"v":0.43},{"s":"I(M4:D)","t":554.33,"v":1.79},{"s":"I(M4:D)","t":560.61,"v":0.94}]
},
"vconcat": [
{
 "width": 1117, "height": 296,
 "layer": [
  {"data": {"name": "g1"}, "mark": {"type": "line", "color": "#17a617", "strokeWidth": 2.5, "strokeJoin": "round", "clip": true},
   "encoding": {
    "x": {"field": "t", "type": "quantitative", "scale": {"domain": [313.8, 570.6], "nice": false, "zero": false},
     "axis": {"title": null, "labels": false, "ticks": false, "tickCount": 200,
      "values": [315,320,325,330,335,340,345,350,355,360,365,370,375,380,385,390,395,400,405,410,415,420,425,430,435,440,445,450,455,460,465,470,475,480,485,490,495,500,505,510,515,520,525,530,535,540,545,550,555,560,565,570],
      "gridColor": {"condition": [{"test": "(datum.value + 20) % 60 === 0", "value": "#666"}, {"test": "datum.value % 20 === 0", "value": "#111"}], "value": "#888"},
      "gridDash": {"condition": {"test": "datum.value % 20 === 0", "value": []}, "value": [2, 2]},
      "gridWidth": {"condition": {"test": "(datum.value + 20) % 60 === 0", "value": 2}, "value": 1},
      "gridOpacity": 1}},
    "y": {"field": "v", "type": "quantitative", "scale": {"domain": [-2, 7.1], "nice": false, "zero": false},
     "axis": {"title": null, "tickCount": 200, "values": [-2, -1.68, -1, 0, 1, 2, 3, 4, 5, 6, 7, 7.1],
      "labelExpr": "datum.value === 7.1 ? '7.1A' : datum.value === 4 ? '4.0A' : datum.value === 0 ? '0A' : datum.value === -2 ? '-2.0A' : datum.value === -1.68 ? 'SEL>>' : ''",
      "tickSize": 4, "labelPadding": 2,
      "tickOpacity": {"condition": {"test": "datum.value === 7.1 || datum.value === 4 || datum.value === 0 || datum.value === -2", "value": 1}, "value": 0},
      "gridOpacity": {"condition": {"test": "datum.value === -1.68 || datum.value === 7.1", "value": 0}, "value": 1},
      "gridColor": {"condition": {"test": "datum.value === 0 || datum.value === 4", "value": "#444"}, "value": "#888"},
      "gridDash": {"condition": {"test": "datum.value === 0 || datum.value === 4", "value": []}, "value": [2, 2]},
      "gridWidth": {"condition": {"test": "datum.value === 0 || datum.value === 4", "value": 1.5}, "value": 1}}},
    "order": {"value": null}}},
  {"data": {"name": "r1"}, "mark": {"type": "line", "color": "#a80000", "strokeWidth": 2.5, "strokeJoin": "round", "clip": true},
   "encoding": {"x": {"field": "t", "type": "quantitative"}, "y": {"field": "v", "type": "quantitative"}, "order": {"value": null}}},
  {"data": {"name": "m1"}, "mark": {"type": "point", "filled": false, "size": 36, "strokeWidth": 1.5, "opacity": 1, "clip": true},
   "encoding": {"x": {"field": "t", "type": "quantitative"}, "y": {"field": "v", "type": "quantitative"},
    "color": {"field": "s", "type": "nominal", "scale": {"domain": ["I(M2:D)", "I(M3:D)"], "range": ["#17a617", "#b00000"]},
     "legend": {"orient": "none", "legendX": -1, "legendY": 305, "direction": "horizontal", "title": null, "symbolSize": 36, "symbolStrokeWidth": 1.5, "labelFont": "DejaVu Sans Mono", "labelFontSize": 10, "labelColor": "#000", "columnPadding": 4, "labelOffset": 4, "padding": 0}},
    "shape": {"field": "s", "type": "nominal", "scale": {"domain": ["I(M2:D)", "I(M3:D)"], "range": ["square", "diamond"]},
     "legend": {"orient": "none", "legendX": -1, "legendY": 305, "direction": "horizontal", "title": null, "symbolSize": 36, "symbolStrokeWidth": 1.5, "labelFont": "DejaVu Sans Mono", "labelFontSize": 10, "labelColor": "#000", "columnPadding": 4, "labelOffset": 4, "padding": 0}}}},
  {"data": {"name": "w1"}, "mark": {"type": "point", "shape": "square", "filled": true, "fill": "white", "stroke": "#000", "strokeWidth": 1, "size": 45, "opacity": 1, "clip": true},
   "encoding": {"x": {"field": "t", "type": "quantitative"}, "y": {"field": "v", "type": "quantitative"}}}
 ]
},
{
 "width": 1117, "height": 297,
 "layer": [
  {"data": {"name": "g2"}, "mark": {"type": "line", "color": "#17a617", "strokeWidth": 2.5, "strokeJoin": "round", "clip": true},
   "encoding": {
    "x": {"field": "t", "type": "quantitative", "scale": {"domain": [313.8, 570.6], "nice": false, "zero": false},
     "axis": {"title": "Time", "titlePadding": 15, "tickSize": 4, "labelPadding": 2, "tickCount": 200,
      "values": [315,320,325,330,335,340,345,350,355,360,365,370,375,380,385,390,395,400,405,410,415,420,425,430,435,440,445,450,455,460,465,470,475,480,485,490,495,500,505,510,515,520,525,530,535,540,545,550,555,560,565,570],
      "labelExpr": "datum.value % 20 === 0 ? datum.value + 'us' : ''",
      "tickOpacity": {"condition": {"test": "datum.value % 20 === 0", "value": 1}, "value": 0},
      "gridColor": {"condition": [{"test": "(datum.value + 20) % 60 === 0", "value": "#666"}, {"test": "datum.value % 20 === 0", "value": "#111"}], "value": "#888"},
      "gridDash": {"condition": {"test": "datum.value % 20 === 0", "value": []}, "value": [2, 2]},
      "gridWidth": {"condition": {"test": "(datum.value + 20) % 60 === 0", "value": 2}, "value": 1},
      "gridOpacity": 1}},
    "y": {"field": "v", "type": "quantitative", "scale": {"domain": [-4, 8], "nice": false, "zero": false},
     "axis": {"title": null, "tickCount": 200, "values": [-4, -3, -2, -1, 0, 1, 2, 3, 4, 5, 6, 7, 8],
      "labelExpr": "datum.value === 8 ? '8.0A' : datum.value === 4 ? '4.0A' : datum.value === 0 ? '0A' : datum.value === -4 ? '-4.0A' : ''",
      "tickSize": 4, "labelPadding": 2,
      "tickOpacity": {"condition": {"test": "datum.value === 8 || datum.value === 4 || datum.value === 0 || datum.value === -4", "value": 1}, "value": 0},
      "gridColor": {"condition": {"test": "datum.value === 0 || datum.value === 4", "value": "#444"}, "value": "#888"},
      "gridDash": {"condition": {"test": "datum.value === 0 || datum.value === 4 || datum.value === 8 || datum.value === -4", "value": []}, "value": [2, 2]},
      "gridWidth": {"condition": {"test": "datum.value === 0 || datum.value === 4", "value": 1.5}, "value": 1}}},
    "order": {"value": null}}},
  {"data": {"name": "r2"}, "mark": {"type": "line", "color": "#a80000", "strokeWidth": 2.5, "strokeJoin": "round", "clip": true},
   "encoding": {"x": {"field": "t", "type": "quantitative"}, "y": {"field": "v", "type": "quantitative"}, "order": {"value": null}}},
  {"data": {"name": "m2"}, "mark": {"type": "point", "filled": false, "size": 36, "strokeWidth": 1.5, "opacity": 1, "clip": true},
   "encoding": {"x": {"field": "t", "type": "quantitative"}, "y": {"field": "v", "type": "quantitative"},
    "color": {"field": "s", "type": "nominal", "scale": {"domain": ["I(M1:D)", "I(M4:D)"], "range": ["#17a617", "#b00000"]},
     "legend": {"orient": "none", "legendX": -1, "legendY": 319, "direction": "horizontal", "title": null, "symbolSize": 36, "symbolStrokeWidth": 1.5, "labelFont": "DejaVu Sans Mono", "labelFontSize": 10, "labelColor": "#000", "columnPadding": 4, "labelOffset": 4, "padding": 0}},
    "shape": {"field": "s", "type": "nominal", "scale": {"domain": ["I(M1:D)", "I(M4:D)"], "range": ["square", "diamond"]},
     "legend": {"orient": "none", "legendX": -1, "legendY": 319, "direction": "horizontal", "title": null, "symbolSize": 36, "symbolStrokeWidth": 1.5, "labelFont": "DejaVu Sans Mono", "labelFontSize": 10, "labelColor": "#000", "columnPadding": 4, "labelOffset": 4, "padding": 0}}}}
 ]
}
]
}
